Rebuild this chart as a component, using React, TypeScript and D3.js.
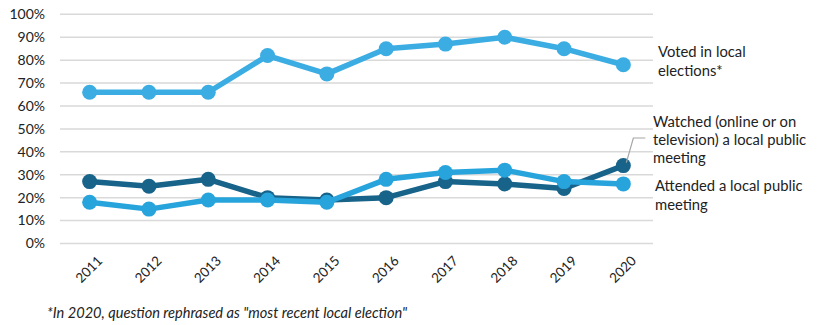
import React from "react";
import * as d3 from "d3";

const years = ["2011", "2012", "2013", "2014", "2015", "2016", "2017", "2018", "2019", "2020"];
const voted = [66, 66, 66, 82, 74, 85, 87, 90, 85, 78];
const watched = [27, 25, 28, 20, 19, 20, 27, 26, 24, 34];
const attended = [18, 15, 19, 19, 18, 28, 31, 32, 27, 26];
const yTicks = [0, 10, 20, 30, 40, 50, 60, 70, 80, 90, 100];

const W = 817;
const H = 325;
const FONT = "Lato, 'Open Sans', sans-serif";

export default function App() {
  const x = d3.scaleBand<string>().domain(years).range([60, 653]);
  const y = d3.scaleLinear().domain([0, 100]).range([243.5, 14.3]);
  const cx = (yr: string) => (x(yr) as number) + x.bandwidth() / 2;
  const line = d3
    .line<number>()
    .x((_, i) => cx(years[i]))
    .y((d) => y(d));

  const series = [
    { data: watched, color: "#17638A" },
    { data: attended, color: "#28A4DC" },
    { data: voted, color: "#3BADE3" },
  ];

  const lastX = cx(years[years.length - 1]);

  return (
    <svg width={W} height={H} style={{ position: "absolute", left: 0, top: 0 }} fontFamily={FONT}>
      <rect width={W} height={H} fill="#fff" />
      {yTicks.map((t) => (
        <g key={t}>
          <line x1={60} x2={653} y1={y(t)} y2={y(t)} stroke="#d9d9d9" strokeWidth={1.5} />
          <text x={45} y={y(t)} dy="0.35em" textAnchor="end" fontSize={14} fill="#222">
            {t}%
          </text>
        </g>
      ))}
      {years.map((yr) => (
        <text
          key={yr}
          transform={`translate(${cx(yr) + 7},${255}) rotate(-45)`}
          textAnchor="end"
          dy="0.7em"
          fontSize={13.5}
          fill="#222"
        >
          {yr}
        </text>
      ))}
      {series.map((s, si) => (
        <g key={si}>
          <path d={line(s.data) as string} fill="none" stroke={s.color} strokeWidth={5.5} strokeLinejoin="round" />
          {s.data.map((v, i) => (
            <circle key={i} cx={cx(years[i])} cy={y(v)} r={7.5} fill={s.color} />
          ))}
        </g>
      ))}
      <polyline
        points={`${lastX + 3},${y(watched[9]) - 3} ${lastX + 10},${138} ${lastX + 22},${138}`}
        fill="none"
        stroke="#a6a6a6"
        strokeWidth={1.2}
      />
      <g fontSize={14.8} fill="#222">
        <text x={658} y={57}>Voted in local</text>
        <text x={658} y={76}>elections*</text>
        <text x={653} y={127}>Watched (online or on</text>
        <text x={653} y={145}>television) a local public</text>
        <text x={653} y={163}>meeting</text>
        <text x={655} y={191}>Attended a local public</text>
        <text x={655} y={210}>meeting</text>
      </g>
      <text x={47} y={318} fontSize={14.6} fontStyle="italic" fill="#222">
        *In 2020, question rephrased as "most recent local election"
      </text>
    </svg>
  );
}
